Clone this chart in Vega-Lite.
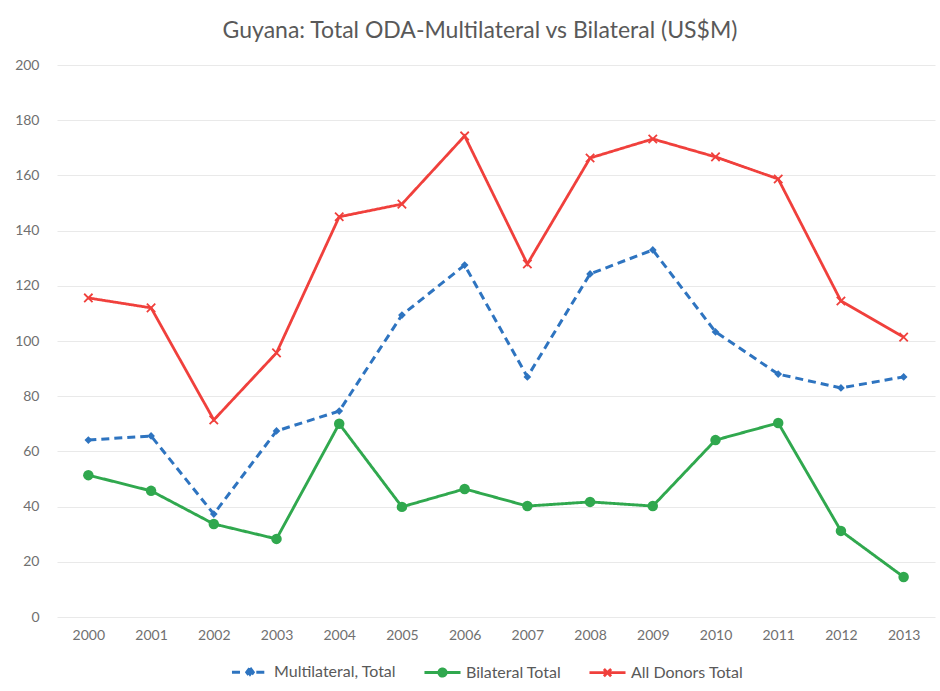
{
  "$schema": "https://vega.github.io/schema/vega-lite/v6.json",
  "width": 878,
  "height": 552,
  "autosize": {"type": "none"},
  "padding": {"left": 57, "top": 65, "right": 5, "bottom": 74},
  "background": "white",
  "config": {
    "font": "Lato",
    "view": {"stroke": null}
  },
  "title": {
    "text": "Guyana: Total ODA-Multilateral vs Bilateral (US$M)",
    "fontSize": 23,
    "font": "Lato",
    "fontWeight": "normal",
    "color": "#595959",
    "anchor": "middle",
    "offset": 15,
    "dx": -16
  },
  "data": {
    "values": [
      {"year": "2000", "series": "Multilateral, Total", "value": 64.1},
      {"year": "2001", "series": "Multilateral, Total", "value": 65.6},
      {"year": "2002", "series": "Multilateral, Total", "value": 37.3},
      {"year": "2003", "series": "Multilateral, Total", "value": 67.4},
      {"year": "2004", "series": "Multilateral, Total", "value": 74.6},
      {"year": "2005", "series": "Multilateral, Total", "value": 109.4},
      {"year": "2006", "series": "Multilateral, Total", "value": 127.5},
      {"year": "2007", "series": "Multilateral, Total", "value": 87},
      {"year": "2008", "series": "Multilateral, Total", "value": 124.3},
      {"year": "2009", "series": "Multilateral, Total", "value": 133},
      {"year": "2010", "series": "Multilateral, Total", "value": 103.3},
      {"year": "2011", "series": "Multilateral, Total", "value": 88},
      {"year": "2012", "series": "Multilateral, Total", "value": 83},
      {"year": "2013", "series": "Multilateral, Total", "value": 87},
      {"year": "2000", "series": "Bilateral Total", "value": 51.4},
      {"year": "2001", "series": "Bilateral Total", "value": 45.7},
      {"year": "2002", "series": "Bilateral Total", "value": 33.7},
      {"year": "2003", "series": "Bilateral Total", "value": 28.3},
      {"year": "2004", "series": "Bilateral Total", "value": 70},
      {"year": "2005", "series": "Bilateral Total", "value": 39.9},
      {"year": "2006", "series": "Bilateral Total", "value": 46.4},
      {"year": "2007", "series": "Bilateral Total", "value": 40.2},
      {"year": "2008", "series": "Bilateral Total", "value": 41.7},
      {"year": "2009", "series": "Bilateral Total", "value": 40.2},
      {"year": "2010", "series": "Bilateral Total", "value": 64.1},
      {"year": "2011", "series": "Bilateral Total", "value": 70.3},
      {"year": "2012", "series": "Bilateral Total", "value": 31.2},
      {"year": "2013", "series": "Bilateral Total", "value": 14.5},
      {"year": "2000", "series": "All Donors Total", "value": 115.6},
      {"year": "2001", "series": "All Donors Total", "value": 112},
      {"year": "2002", "series": "All Donors Total", "value": 71.4},
      {"year": "2003", "series": "All Donors Total", "value": 95.7},
      {"year": "2004", "series": "All Donors Total", "value": 145},
      {"year": "2005", "series": "All Donors Total", "value": 149.6},
      {"year": "2006", "series": "All Donors Total", "value": 174.3},
      {"year": "2007", "series": "All Donors Total", "value": 127.9},
      {"year": "2008", "series": "All Donors Total", "value": 166.3},
      {"year": "2009", "series": "All Donors Total", "value": 173.2},
      {"year": "2010", "series": "All Donors Total", "value": 166.7},
      {"year": "2011", "series": "All Donors Total", "value": 158.7},
      {"year": "2012", "series": "All Donors Total", "value": 114.5},
      {"year": "2013", "series": "All Donors Total", "value": 101.4}
    ]
  },
  "encoding": {
    "x": {
      "field": "year",
      "type": "ordinal",
      "title": null,
      "scale": {"type": "point", "padding": 0.5},
      "axis": {
        "labelAngle": 0,
        "labelFontSize": 14,
        "labelColor": "#707070",
        "labelPadding": 11,
        "ticks": false,
        "domain": false,
        "grid": false
      }
    },
    "y": {
      "field": "value",
      "type": "quantitative",
      "title": null,
      "scale": {"domain": [0, 200], "nice": false},
      "axis": {
        "values": [0, 20, 40, 60, 80, 100, 120, 140, 160, 180, 200],
        "labelFontSize": 14,
        "labelColor": "#707070",
        "labelPadding": 18,
        "ticks": false,
        "domain": false,
        "gridColor": "#e9e9e9",
        "gridWidth": 1
      }
    }
  },
  "layer": [
    {
      "mark": {"type": "line"},
      "encoding": {
        "color": {
          "field": "series",
          "type": "nominal",
          "scale": {
            "domain": ["Multilateral, Total", "Bilateral Total", "All Donors Total"],
            "range": ["#2E74C0", "#30A84E", "#F0403C"]
          },
          "legend": {
            "orient": "none",
            "legendX": 173,
            "legendY": 587,
            "direction": "horizontal",
            "title": null,
            "labelFontSize": 16,
            "labelColor": "#595959",
            "labelOffset": 4,
            "columnPadding": 21,
            "symbolSize": 1300,
            "symbolStrokeWidth": 2.5,
            "encode": {
              "symbols": {
                "update": {
                  "shape": {"signal": "datum.value == 'Multilateral, Total' ? 'M-1,0L-0.35,0M0.35,0L1,0M0,-0.24L0.18,0L0,0.24L-0.18,0Z' : datum.value == 'Bilateral Total' ? 'M-1,0L1,0M0.2,0A0.2,0.2 0 1,1 -0.2,0A0.2,0.2 0 1,1 0.2,0Z' : 'M-1,0L1,0M-0.2,-0.2L0.2,0.2M-0.2,0.2L0.2,-0.2'"},
                  "size": {"value": 1300},
                  "fill": {"signal": "scale('color', datum.value)"},
                  "stroke": {"signal": "scale('color', datum.value)"},
                  "strokeWidth": {"value": 2.5},
                  "strokeDash": {"value": [1, 0]},
                  "opacity": {"value": 1}
                }
              }
            }
          }
        },
        "strokeDash": {
          "field": "series",
          "type": "nominal",
          "legend": null,
          "scale": {
            "domain": ["Multilateral, Total", "Bilateral Total", "All Donors Total"],
            "range": [[8, 5], [1, 0], [1, 0]]
          }
        },
        "strokeWidth": {
          "field": "series",
          "type": "ordinal",
          "legend": null,
          "scale": {
            "domain": ["Multilateral, Total", "Bilateral Total", "All Donors Total"],
            "range": [3, 2.8, 2]
          }
        }
      }
    },
    {
      "transform": [{"filter": "datum.series == 'Multilateral, Total'"}],
      "mark": {"type": "point", "shape": "diamond", "filled": true, "size": 60, "color": "#2E74C0", "opacity": 1}
    },
    {
      "transform": [{"filter": "datum.series == 'Bilateral Total'"}],
      "mark": {"type": "point", "shape": "circle", "filled": true, "size": 110, "color": "#30A84E", "opacity": 1}
    },
    {
      "transform": [{"filter": "datum.series == 'All Donors Total'"}],
      "mark": {"type": "point", "shape": "M-1,-1L1,1M-1,1L1,-1", "filled": false, "size": 70, "strokeWidth": 1.8, "color": "#F0403C", "opacity": 1}
    }
  ]
}
